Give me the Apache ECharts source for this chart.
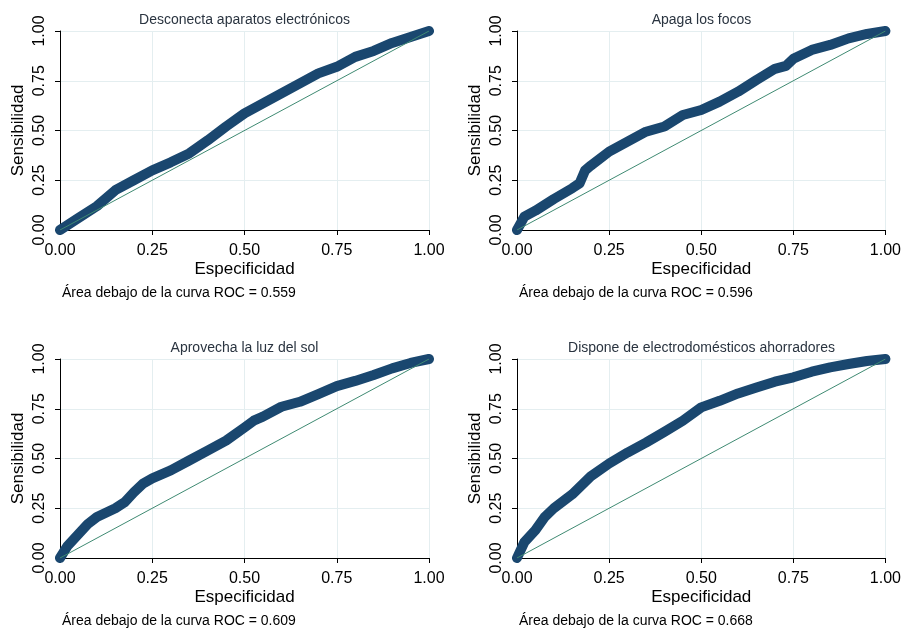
<!DOCTYPE html>
<html>
<head>
<meta charset="utf-8">
<script src="https://cdn.jsdelivr.net/npm/echarts@6/dist/echarts.min.js"></script>
<style>
  html, body { margin: 0; padding: 0; background: #ffffff; }
  #main { width: 904px; height: 628px; }
</style>
</head>
<body>
<div id="main"></div>
<script>
// paneles: titulo y area bajo la curva
var titulos = ['Desconecta aparatos electrónicos', 'Apaga los focos', 'Aprovecha la luz del sol', 'Dispone de electrodomésticos ahorradores'];
var areas = ['0.559', '0.596', '0.609', '0.668'];
var ticks = [0, 0.25, 0.5, 0.75, 1];
var diag = [[0, 0], [1, 1]];

// curvas ROC
var x1 = [0, 0.05, 0.1, 0.15, 0.2, 0.25, 0.3, 0.35, 0.4, 0.45, 0.5, 0.55, 0.6, 0.65, 0.7, 0.75, 0.8, 0.85, 0.9, 0.95, 1];
var y1 = [0, 0.06, 0.12, 0.2, 0.25, 0.3, 0.34, 0.385, 0.45, 0.52, 0.586, 0.636, 0.687, 0.737, 0.787, 0.82, 0.87, 0.9, 0.94, 0.97, 1];

var x2 = [0, 0.02, 0.05, 0.1, 0.15, 0.17, 0.185, 0.2, 0.25, 0.3, 0.35, 0.4, 0.45, 0.5, 0.55, 0.6, 0.65, 0.7, 0.73, 0.75, 0.8, 0.85, 0.9, 0.95, 1];
var y2 = [0, 0.067, 0.097, 0.156, 0.21, 0.235, 0.3, 0.323, 0.394, 0.444, 0.494, 0.52, 0.578, 0.603, 0.645, 0.695, 0.754, 0.81, 0.825, 0.86, 0.905, 0.93, 0.963, 0.985, 1];

var x3 = [0, 0.02, 0.05, 0.075, 0.1, 0.15, 0.175, 0.2, 0.225, 0.25, 0.3, 0.35, 0.4, 0.45, 0.5, 0.525, 0.55, 0.6, 0.65, 0.7, 0.75, 0.8, 0.85, 0.9, 0.95, 1];
var y3 = [0, 0.06, 0.12, 0.17, 0.206, 0.25, 0.28, 0.33, 0.374, 0.4, 0.44, 0.49, 0.54, 0.59, 0.656, 0.69, 0.71, 0.76, 0.785, 0.824, 0.864, 0.89, 0.92, 0.953, 0.98, 1];

var x4 = [0, 0.02, 0.05, 0.075, 0.1, 0.15, 0.2, 0.25, 0.3, 0.35, 0.4, 0.45, 0.5, 0.55, 0.6, 0.65, 0.7, 0.75, 0.8, 0.85, 0.9, 0.95, 1];
var y4 = [0, 0.08, 0.14, 0.206, 0.25, 0.32, 0.41, 0.475, 0.53, 0.58, 0.634, 0.69, 0.757, 0.79, 0.827, 0.857, 0.886, 0.908, 0.936, 0.958, 0.975, 0.99, 1];

var xs = [x1, x2, x3, x4];
var ys = [y1, y2, y3, y4];

var chart = echarts.init(document.getElementById('main'));

var lefts = [60, 517, 60, 517];
var tops = [31, 31, 359, 359];
var pw = 369, ph = 199;
var fuente = '"Liberation Sans", Arial, sans-serif';

var grid = [], xAxis = [], yAxis = [], series = [], title = [], graphic = [];

for (var i = 0; i < 4; i++) {
  grid.push({ left: lefts[i], top: tops[i], width: pw, height: ph, containLabel: false });

  xAxis.push({
    gridIndex: i, type: 'value', min: 0, max: 1, interval: 0.25,
    name: 'Especificidad', nameLocation: 'middle', nameGap: 31,
    nameTextStyle: { fontSize: 17, color: '#000', fontFamily: fuente },
    axisLine: { show: true, lineStyle: { color: '#000', width: 1 } },
    axisTick: { show: true, inside: false, length: 5, lineStyle: { color: '#000' } },
    axisLabel: { fontSize: 16, color: '#000', margin: 13, fontFamily: fuente,
      formatter: function (v) { return v.toFixed(2); } },
    splitLine: { show: true, lineStyle: { color: '#e4eef0', width: 1 } }
  });

  yAxis.push({
    gridIndex: i, type: 'value', min: 0, max: 1, interval: 0.25,
    name: 'Sensibilidad', nameLocation: 'middle', nameGap: 33,
    nameTextStyle: { fontSize: 17, color: '#000', fontFamily: fuente },
    axisLine: { show: true, lineStyle: { color: '#000', width: 1 } },
    axisTick: { show: true, inside: false, length: 5, lineStyle: { color: '#000' } },
    axisLabel: { fontSize: 16, color: '#000', margin: 12, rotate: 90, fontFamily: fuente,
      formatter: function (v) { return v.toFixed(2); } },
    splitLine: { show: true, lineStyle: { color: '#e4eef0', width: 1 } }
  });

  var pts = xs[i].map(function (x, k) { return [x, ys[i][k]]; });

  series.push({
    type: 'line', xAxisIndex: i, yAxisIndex: i, data: pts,
    showSymbol: false, symbol: 'none', smooth: false,
    lineStyle: { color: '#1a476f', width: 10, cap: 'round', join: 'round' },
    z: 2, animation: false
  });
  series.push({
    type: 'line', xAxisIndex: i, yAxisIndex: i, data: diag,
    showSymbol: false, symbol: 'none',
    lineStyle: { color: '#3f8a72', width: 1 },
    z: 3, animation: false
  });

  title.push({
    text: titulos[i], left: lefts[i] + pw / 2, top: tops[i] - 18, textAlign: 'center', padding: 0,
    textStyle: { fontSize: 14, fontWeight: 'normal', color: '#2a3440', fontFamily: fuente }
  });

  graphic.push({
    type: 'text', left: lefts[i] + 2, top: tops[i] + 255,
    style: { text: 'Área debajo de la curva ROC = ' + areas[i], font: '14px ' + fuente, fill: '#000' }
  });
}

chart.setOption({
  backgroundColor: '#ffffff',
  animation: false,
  title: title,
  grid: grid,
  xAxis: xAxis,
  yAxis: yAxis,
  series: series,
  graphic: graphic
});
</script>
</body>
</html>
